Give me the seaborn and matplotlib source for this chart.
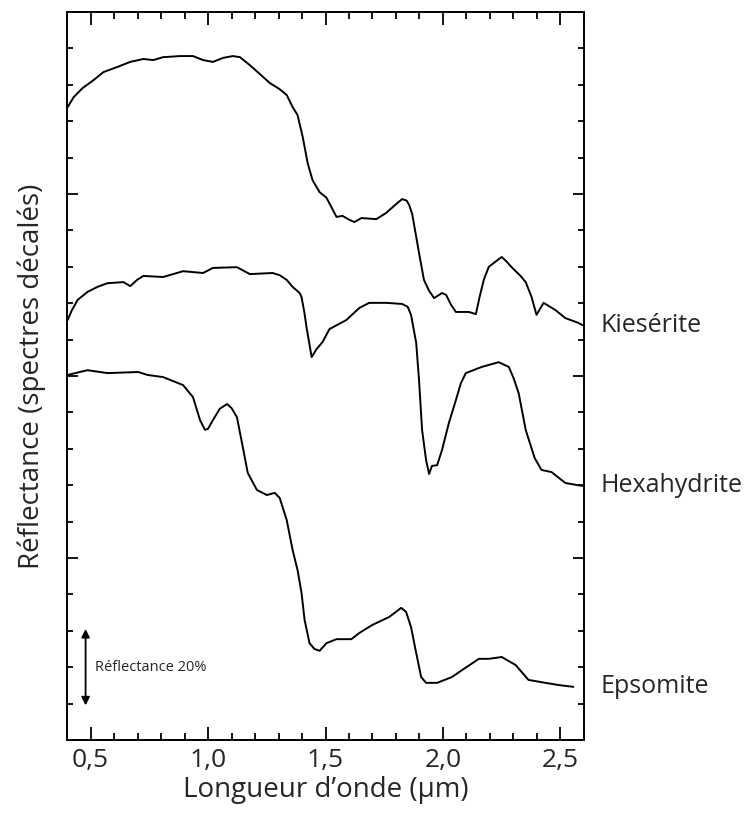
import numpy as np
import pandas as pd
import seaborn as sns
import matplotlib.pyplot as plt
from matplotlib.ticker import MultipleLocator

# spectra (wavelength in um, offset reflectance)
kieserite_wl = [0.403, 0.428, 0.466, 0.513, 0.555, 0.614, 0.669, 0.725, 0.767, 0.809,
                0.881, 0.936, 0.979, 1.021, 1.064, 1.106, 1.136, 1.178, 1.220, 1.263,
                1.305, 1.335, 1.360, 1.381, 1.403, 1.424, 1.445, 1.475, 1.504, 1.530,
                1.547, 1.572, 1.602, 1.623, 1.653, 1.716, 1.758, 1.800, 1.826, 1.845,
                1.856, 1.869, 1.884, 1.898, 1.919, 1.940, 1.962, 1.996, 2.013, 2.035,
                2.055, 2.110, 2.140, 2.155, 2.174, 2.195, 2.225, 2.250, 2.270, 2.292,
                2.330, 2.352, 2.377, 2.398, 2.428, 2.479, 2.521, 2.576, 2.593]
kieserite_r = [1.739, 1.766, 1.791, 1.813, 1.835, 1.849, 1.863, 1.871, 1.868, 1.876,
               1.879, 1.879, 1.868, 1.863, 1.874, 1.879, 1.876, 1.854, 1.830, 1.805,
               1.788, 1.772, 1.739, 1.717, 1.657, 1.585, 1.538, 1.505, 1.490, 1.458,
               1.437, 1.440, 1.429, 1.423, 1.434, 1.431, 1.448, 1.472, 1.486, 1.482,
               1.470, 1.445, 1.390, 1.338, 1.264, 1.235, 1.214, 1.228, 1.223, 1.195,
               1.176, 1.176, 1.170, 1.215, 1.265, 1.300, 1.315, 1.327, 1.315, 1.299,
               1.275, 1.258, 1.217, 1.168, 1.201, 1.181, 1.159, 1.146, 1.140]

hexahydrite_wl = [0.403, 0.420, 0.445, 0.487, 0.530, 0.572, 0.640, 0.669, 0.700, 0.725,
                  0.809, 0.894, 0.979, 1.021, 1.123, 1.178, 1.275, 1.305, 1.335, 1.360,
                  1.390, 1.398, 1.410, 1.419, 1.441, 1.462, 1.487, 1.517, 1.589, 1.644,
                  1.686, 1.758, 1.826, 1.850, 1.864, 1.886, 1.898, 1.911, 1.928, 1.941,
                  1.953, 1.975, 1.996, 2.025, 2.055, 2.076, 2.097, 2.165, 2.237, 2.280,
                  2.300, 2.322, 2.352, 2.390, 2.419, 2.462, 2.521, 2.593]
hexahydrite_r = [1.154, 1.180, 1.209, 1.231, 1.245, 1.255, 1.258, 1.247, 1.265, 1.275,
                 1.272, 1.288, 1.283, 1.297, 1.299, 1.280, 1.283, 1.277, 1.264, 1.245,
                 1.228, 1.217, 1.175, 1.135, 1.052, 1.074, 1.093, 1.129, 1.154, 1.187,
                 1.201, 1.201, 1.198, 1.190, 1.168, 1.091, 0.989, 0.852, 0.769, 0.731,
                 0.753, 0.755, 0.797, 0.871, 0.934, 0.980, 1.008, 1.025, 1.038, 1.025,
                 0.995, 0.953, 0.852, 0.775, 0.742, 0.736, 0.706, 0.698]

epsomite_wl = [0.403, 0.487, 0.572, 0.703, 0.742, 0.809, 0.894, 0.936, 0.966, 0.987,
               1.000, 1.021, 1.050, 1.081, 1.100, 1.123, 1.148, 1.169, 1.208, 1.250,
               1.284, 1.305, 1.335, 1.360, 1.381, 1.398, 1.411, 1.432, 1.453, 1.475,
               1.504, 1.547, 1.610, 1.644, 1.699, 1.771, 1.822, 1.843, 1.864, 1.886,
               1.907, 1.928, 1.975, 2.038, 2.081, 2.153, 2.195, 2.250, 2.309, 2.364,
               2.436, 2.492, 2.555]
epsomite_r = [1.003, 1.016, 1.008, 1.011, 1.003, 0.997, 0.975, 0.942, 0.879, 0.852,
              0.855, 0.879, 0.910, 0.923, 0.912, 0.887, 0.805, 0.734, 0.687, 0.673,
              0.679, 0.665, 0.604, 0.522, 0.467, 0.404, 0.330, 0.266, 0.250, 0.245,
              0.266, 0.277, 0.277, 0.294, 0.316, 0.338, 0.363, 0.352, 0.310, 0.239,
              0.173, 0.157, 0.157, 0.173, 0.192, 0.223, 0.223, 0.228, 0.206, 0.165,
              0.157, 0.151, 0.146]

minerals = ['Kiesérite', 'Hexahydrite', 'Epsomite']
x_ticks = [0.5, 1.0, 1.5, 2.0, 2.5]
x_tick_labels = ['0,5', '1,0', '1,5', '2,0', '2,5']

df = pd.concat([
    pd.DataFrame({'wl': kieserite_wl, 'refl': kieserite_r, 'mineral': minerals[0]}),
    pd.DataFrame({'wl': hexahydrite_wl, 'refl': hexahydrite_r, 'mineral': minerals[1]}),
    pd.DataFrame({'wl': epsomite_wl, 'refl': epsomite_r, 'mineral': minerals[2]}),
])

sns.set_style('ticks')
plt.rcParams['font.family'] = ['Open Sans', 'DejaVu Sans']

fig = plt.figure(figsize=(7.54, 8.13), dpi=100)
ax = fig.add_axes([0.0889, 0.0898, 0.6856, 0.8954])

sns.lineplot(data=df, x='wl', y='refl', hue='mineral', palette=['black'] * 3,
             sort=False, estimator=None, legend=False, linewidth=1.4, ax=ax,
             solid_joinstyle='round')

ax.set_xlim(0.4, 2.6)
ax.set_ylim(0, 2.0)
ax.set_xticks(x_ticks)
ax.set_xticklabels(x_tick_labels, fontsize=19)
ax.xaxis.set_minor_locator(MultipleLocator(0.1))
ax.set_yticks([0.5, 1.0, 1.5])
ax.set_yticklabels([])
ax.yaxis.set_minor_locator(MultipleLocator(0.1))
ax.tick_params(which='both', direction='in', top=True, right=True, color='black', width=1.3)
ax.tick_params(axis='x', which='major', length=9.5, pad=6)
ax.tick_params(axis='x', which='minor', length=5)
ax.tick_params(axis='y', which='major', length=8)
ax.tick_params(axis='y', which='minor', length=4)
for s in ax.spines.values():
    s.set_linewidth(1.4)
    s.set_color('black')

ax.set_xlabel('Longueur d’onde (µm)', fontsize=20, labelpad=2)
ax.set_ylabel('Réflectance (spectres décalés)', fontsize=20, labelpad=12)

# curve names to the right of the frame
for name, y in zip(minerals, [kieserite_r[-1], hexahydrite_r[-1], epsomite_r[-1]]):
    ax.text(2.67, y, name, fontsize=18, ha='left', va='center', clip_on=False)

# 20 % scale bar
ax.annotate('', xy=(0.479, 0.095), xytext=(0.479, 0.305),
            arrowprops=dict(arrowstyle='<|-|>', color='black', lw=1.3, mutation_scale=12,
                            shrinkA=0, shrinkB=0))
ax.text(0.52, 0.2, 'Réflectance 20%', fontsize=10.5, ha='left', va='center')

fig.savefig('out.png', dpi=100)
